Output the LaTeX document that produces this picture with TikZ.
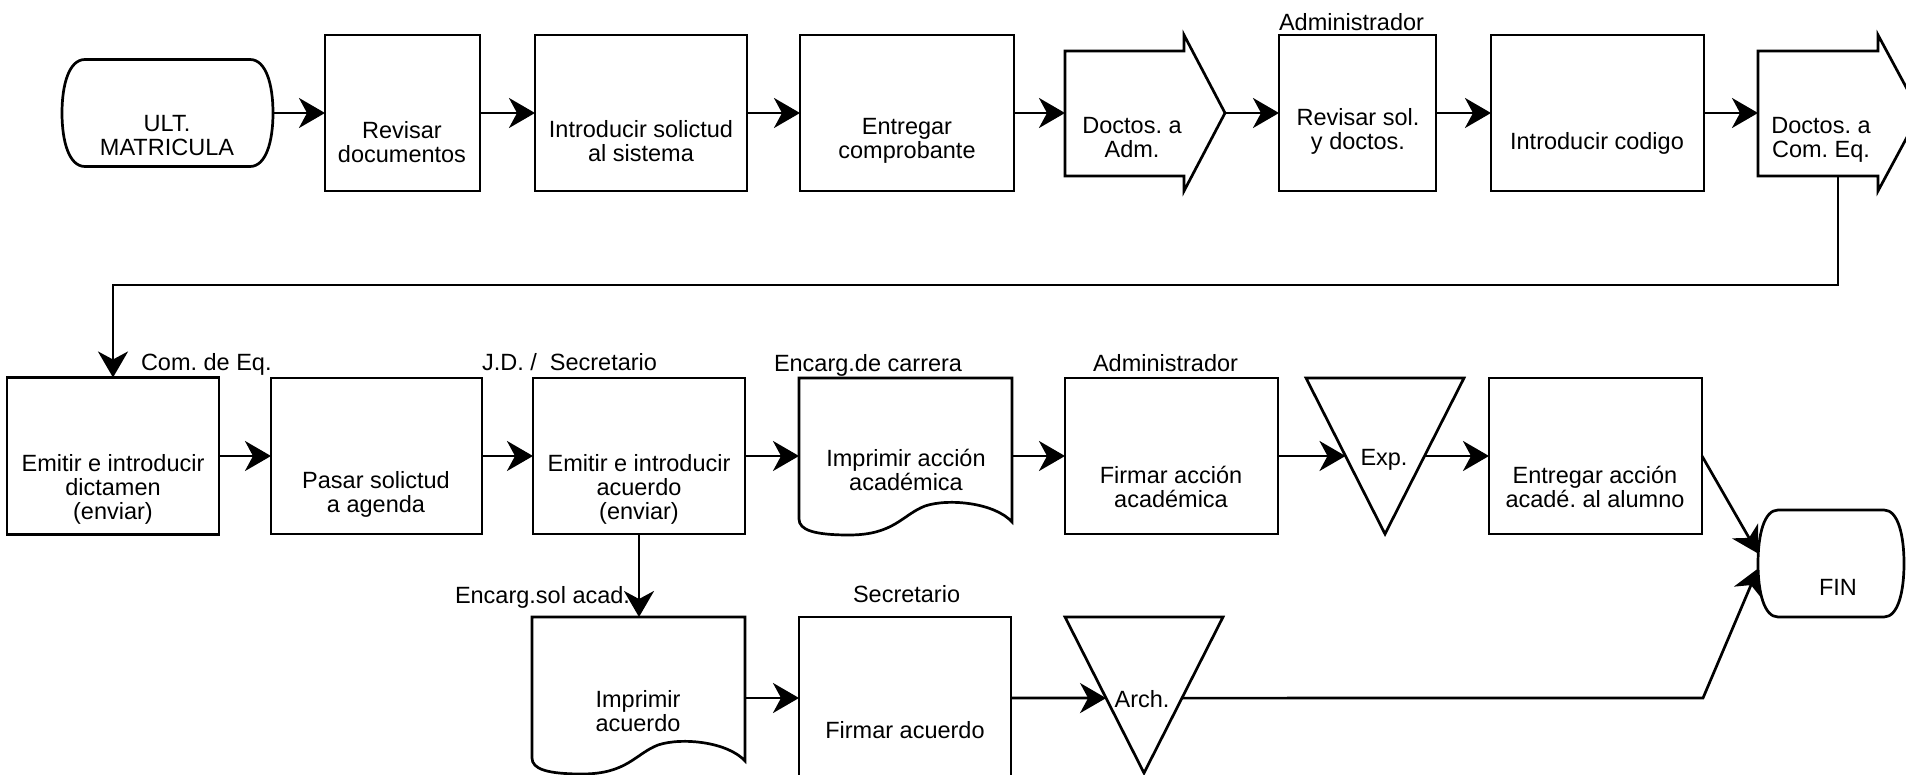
\documentclass[tikz,border=0pt]{standalone}
\usepackage{fontspec}
\setmainfont{Liberation Sans}
\usetikzlibrary{arrows.meta,calc}
\frenchspacing
\begin{document}
\begin{tikzpicture}[x=1pt,y=-1pt,
  every node/.style={font=\fontsize{23.5}{24}\selectfont, inner sep=0pt, outer sep=0pt},
  outline/.style={draw=black, line width=2.7pt, line join=miter},
  box/.style={outline},
  sz/.style 2 args={minimum width=#1pt, minimum height=#2pt},
  txt/.style={align=center},
  role/.style={anchor=base west},
  arr/.style={line width=2.7pt, -{Stealth[length=26pt,width=30pt,inset=8pt]}},
]
\useasboundingbox (0,0) rectangle (1906,775);
\begin{scope}
\clip (0,0) rectangle (1906,775);

% ---------- top row ----------
\node[sz={211}{107}] (ult) at (167.5,113) {};
\draw[outline, shift={(62,59.5)}] (23,0) -- (188,0)
  .. controls (204,0) and (211,25) .. (211,53.5)
  .. controls (211,82) and (204,107) .. (188,107) -- (23,107)
  .. controls (7,107) and (0,82) .. (0,53.5)
  .. controls (0,25) and (7,0) .. (23,0) -- cycle;
\node[txt] (ult-t) at (167,136) {ULT.\\MATRICULA};

\node[box, sz={155}{156}] (revdoc) at (402.5,113) {};
\node[txt] (revdoc-t) at (402,142) {Revisar\\documentos};

\node[box, sz={212}{156}] (intsol) at (641,113) {};
\node[txt] (intsol-t) at (641,141) {Introducir solictud\\al sistema};

\node[box, sz={214}{156}] (entcomp) at (907,113) {};
\node[txt] (entcomp-t) at (907,141) {Entregar\\comprobante};

\node[sz={160}{156}] (dadm) at (1145,113) {};
\draw[outline] (1065,51) -- (1184,51) -- (1184,35) -- (1225,113)
  -- (1184,191) -- (1184,176) -- (1065,176) -- cycle;
\node[txt] (dadm-t) at (1132,138) {Doctos. a\\Adm.};

\node[box, sz={157}{156}] (revsol) at (1357.5,113) {};
\node[txt] (revsol-t) at (1358,131) {Revisar sol.\\y doctos.};
\node[role] (lbl-adm1) at (1279,31) {Administrador};

\node[box, sz={213}{156}] (intcod) at (1597.5,113) {};
\node[txt] (intcod-t) at (1597,143) {Introducir codigo};

\node[sz={162}{156}] (dcom) at (1839,113) {};
\draw[outline] (1758,51) -- (1878,51) -- (1878,35) -- (1920,113)
  -- (1878,191) -- (1878,176) -- (1758,176) -- cycle;
\node[txt] (dcom-t) at (1821,140) {Doctos. a\\Com. Eq.};
\coordinate (dcomb) at (1838,176);

\draw[arr] (ult.east) -- (revdoc.west);
\draw[arr] (revdoc.east) -- (intsol.west);
\draw[arr] (intsol.east) -- (entcomp.west);
\draw[arr] (entcomp.east) -- (dadm.west);
\draw[arr] (dadm.east) -- (revsol.west);
\draw[arr] (revsol.east) -- (intcod.west);
\draw[arr] (intcod.east) -- (dcom.west);

% ---------- middle row ----------
\node[box, sz={212}{157}] (emdic) at (113,456) {};
\node[txt] (emdic-t) at (113,489) {Emitir e introducir\\dictamen\\(enviar)};
\node[role] (lbl-com) at (141,371) {Com. de Eq.};

\node[box, sz={211}{156}] (pasar) at (376.5,456) {};
\node[txt] (pasar-t) at (376,494) {Pasar solictud\\a agenda};
\node[role] (lbl-jd) at (482,371) {J.D. /\ \ Secretario};

\node[box, sz={212}{156}] (emacu) at (639,456) {};
\node[txt] (emacu-t) at (639,489) {Emitir e introducir\\acuerdo\\(enviar)};

\node[sz={213}{156}] (impacc) at (905.5,456) {};
\draw[outline, shift={(799,378)}] (0,0) -- (213,0) -- (213,144)
  .. controls (196,125) and (150,120) .. (126,128)
  .. controls (103,137) and (95,157) .. (50,157)
  .. controls (15,157) and (0,152) .. (0,141) -- cycle;
\node[txt] (impacc-t) at (906,470) {Imprimir acción\\académica};
\node[role] (lbl-car) at (774,372) {Encarg.de carrera};

\node[box, sz={213}{156}] (firacc) at (1171.5,456) {};
\node[txt] (firacc-t) at (1171,487) {Firmar acción\\académica};
\node[role] (lbl-adm2) at (1093,372) {Administrador};

\node[sz={158}{156}] (exp) at (1385,456) {};
\draw[outline] (exp.north west) -- (exp.north east) -- (exp.south) -- cycle;
\node[txt] (exp-t) at (1384,460) {Exp.};
\coordinate (expL) at ($(exp.north west)!.5!(exp.south)$);
\coordinate (expR) at ($(exp.north east)!.5!(exp.south)$);

\node[box, sz={213}{156}] (entacc) at (1595.5,456) {};
\node[txt] (entacc-t) at (1595,487) {Entregar acción\\acadé. al alumno};

\node[sz={146}{107}] (fin) at (1831,563.5) {};
\draw[outline, shift={(1758,510)}] (20,0) -- (126,0)
  .. controls (140,0) and (146,25) .. (146,53.5)
  .. controls (146,82) and (140,107) .. (126,107) -- (20,107)
  .. controls (6,107) and (0,82) .. (0,53.5)
  .. controls (0,25) and (6,0) .. (20,0) -- cycle;
\node[txt] (fin-t) at (1838,587) {FIN};

\draw[arr] (dcomb) -- ++(0,109) -| (emdic.north);
\draw[arr] (emdic.east) -- (pasar.west);
\draw[arr] (pasar.east) -- (emacu.west);
\draw[arr] (emacu.east) -- (impacc.west);
\draw[arr] (impacc.east) -- (firacc.west);
\draw[arr] (firacc.east) -- (expL);
\draw[arr] (expR) -- (entacc.west);
\draw[arr] (entacc.east) -- ([yshift=10pt]fin.west);

% ---------- bottom row ----------
\node[sz={213}{162}] (impacu) at (638.5,698) {};
\draw[outline, shift={(532,617)}] (0,0) -- (213,0) -- (213,144)
  .. controls (196,125) and (150,120) .. (126,128)
  .. controls (103,137) and (95,157) .. (50,157)
  .. controls (15,157) and (0,152) .. (0,141) -- cycle;
\node[txt] (impacu-t) at (638,711) {Imprimir\\acuerdo};
\node[role] (lbl-sol) at (455,603) {Encarg.sol acad.};

\node[box, sz={212}{162}] (firacu) at (905,698) {};
\node[txt] (firacu-t) at (905,730) {Firmar acuerdo};
\node[role] (lbl-sec) at (853,602) {Secretario};

\node[sz={158}{156}] (arch) at (1144,695) {};
\draw[outline] (arch.north west) -- (arch.north east) -- (arch.south) -- cycle;
\node[txt] (arch-t) at (1142,699) {Arch.};
\coordinate (archL) at ($(arch.north west)!.52!(arch.south)$);
\coordinate (archR) at ($(arch.north east)!.52!(arch.south)$);
\coordinate (bend) at (1703,698);

\draw[arr] (emacu.south) -- (emacu.south |- impacu.north);
\draw[arr] (impacu.east) -- (firacu.west);
\draw[arr] (firacu.east) -- (archL);
\draw[arr] (archR) -- (bend) -- ([yshift=-5pt]fin.west);
\end{scope}
\end{tikzpicture}
\end{document}
